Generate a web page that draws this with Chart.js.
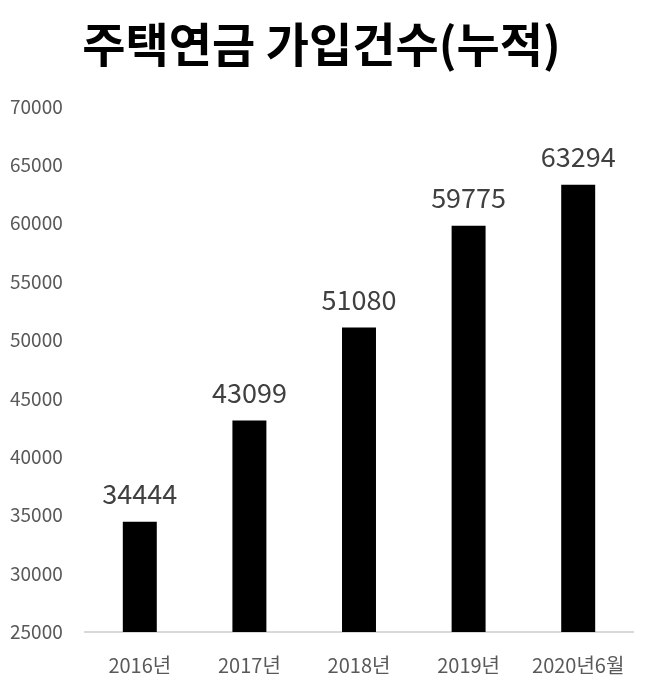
<!DOCTYPE html>
<html>
<head>
<meta charset="utf-8">
<script src="https://cdn.jsdelivr.net/npm/chart.js@4"></script>
<style>
  html, body { margin: 0; padding: 0; background: #fff; }
  #wrap { width: 653px; height: 694px; }
</style>
</head>
<body>
<div id="wrap"><canvas id="chart" width="653" height="694"></canvas></div>
<script>
const categories = ['2016년', '2017년', '2018년', '2019년', '2020년6월'];
const members = [34444, 43099, 51080, 59775, 63294];
const yMin = 25000;
const yMax = 70000;
const yStep = 5000;

const FONT = '"Noto Sans CJK KR", "Noto Sans", sans-serif';

// value labels above each bar
const valueLabels = {
  id: 'valueLabels',
  afterDatasetsDraw(chart) {
    const ctx = chart.ctx;
    const meta = chart.getDatasetMeta(0);
    ctx.save();
    ctx.font = '27px ' + FONT;
    ctx.fillStyle = '#404040';
    ctx.textAlign = 'center';
    ctx.textBaseline = 'middle';
    meta.data.forEach((bar, i) => {
      ctx.fillText(String(members[i]), bar.x, bar.y - 28);
    });
    ctx.restore();
  }
};

new Chart(document.getElementById('chart').getContext('2d'), {
  type: 'bar',
  data: {
    labels: categories,
    datasets: [{
      data: members,
      backgroundColor: '#000000',
      categoryPercentage: 1,
      barPercentage: 0.31
    }]
  },
  options: {
    responsive: false,
    animation: false,
    layout: { padding: { left: 10, right: 20, top: 0, bottom: 4 } },
    plugins: {
      legend: { display: false },
      tooltip: { enabled: false },
      title: {
        display: true,
        text: '주택연금 가입건수(누적)',
        color: '#000000',
        font: { family: FONT, size: 47, weight: 'bold' },
        padding: { top: 16, bottom: 34 }
      }
    },
    scales: {
      x: {
        grid: { display: false },
        border: { display: true, color: '#d9d9d9', width: 2 },
        ticks: { color: '#595959', font: { family: FONT, size: 20 }, padding: 13, maxRotation: 0 }
      },
      y: {
        min: yMin,
        max: yMax,
        grid: { display: false },
        border: { display: false },
        afterFit(scale) { scale.width = 75; },
        ticks: {
          stepSize: yStep,
          crossAlign: 'far',
          color: '#595959',
          font: { family: FONT, size: 19 },
          padding: 18,
          callback: (v) => String(v)
        }
      }
    }
  },
  plugins: [valueLabels]
});
</script>
</body>
</html>
